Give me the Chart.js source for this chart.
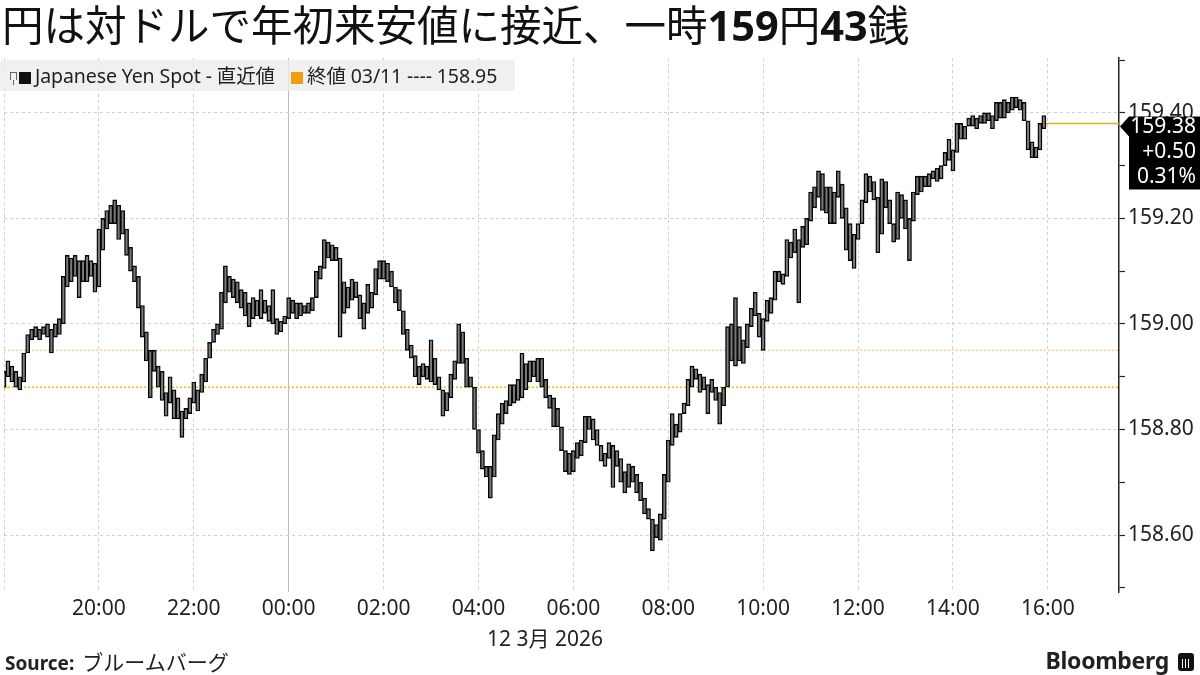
<!DOCTYPE html>
<html>
<head>
<meta charset="utf-8">
<script src="https://cdn.jsdelivr.net/npm/chart.js@4.4.1/dist/chart.umd.min.js"></script>
<style>
html,body{margin:0;padding:0;background:#fff;}
#wrap{position:relative;width:1200px;height:675px;overflow:hidden;font-family:"Noto Sans","Noto Sans CJK JP",sans-serif;color:#222;}
#chart{position:absolute;left:0;top:0;}
#title{position:absolute;left:2px;top:-7px;font-family:"Noto Sans CJK JP",sans-serif;font-size:41.5px;white-space:nowrap;color:#111;}
#title b{font-family:"Noto Sans",sans-serif;font-weight:700;}
#legend{position:absolute;left:0;top:60px;width:515px;height:31px;background:rgba(236,236,236,.8);border-radius:3px;font-size:19.5px;line-height:31px;white-space:nowrap;color:#222;letter-spacing:-0.1px;}
#legend .sq{display:inline-block;width:12px;height:12px;vertical-align:-1px;margin-right:4px;}
#legend .gap{display:inline-block;width:16px;}
#legend .pin{display:inline-block;width:5px;height:7px;border:1px solid #666;border-bottom:none;margin:0 2px 0 10px;vertical-align:3px;position:relative;}
#legend .pin:after{content:"";position:absolute;left:2px;top:7px;width:1px;height:5px;background:#666;}
#date{position:absolute;left:480px;top:622px;font-size:21px;width:130px;text-align:center;white-space:nowrap;}
#source{position:absolute;left:5px;top:646px;font-size:19px;white-space:nowrap;}
#source b{font-weight:700;}
#source span{font-family:"Noto Sans CJK JP",sans-serif;font-size:21px;margin-left:8px;}
#brand{position:absolute;right:6px;top:644px;font-size:23px;font-weight:700;white-space:nowrap;letter-spacing:-0.3px;}
#brand i{display:inline-block;width:16px;height:18px;background:#111;border-radius:3px;margin-left:9px;vertical-align:-2px;
  background-image:linear-gradient(90deg,transparent 4px,#fff 4px,#fff 5px,transparent 5px,transparent 7px,#fff 7px,#fff 8px,transparent 8px,transparent 10px,#fff 10px,#fff 11px,transparent 11px);
  background-size:16px 9px;background-position:0 6px;background-repeat:no-repeat;}
</style>
</head>
<body>
<div id="wrap">
  <canvas id="chart" width="1200" height="675"></canvas>
  <div id="title">円は対ドルで年初来安値に接近、一時<b>159</b>円<b>43</b>銭</div>
  <div id="legend"><span class="pin"></span><span class="sq" style="background:#111"></span>Japanese Yen Spot - 直近値<span class="gap"></span><span class="sq" style="background:#f39c12"></span>終値 03/11 ---- 158.95</div>
  <div id="date">12 3月 2026</div>
  <div id="source"><b>Source:</b><span>ブルームバーグ</span></div>
  <div id="brand">Bloomberg<i></i></div>
</div>
<script>
// ==================== Data ====================
// 5-minute bars starting 18:00 (11 Mar) — one row per hour
const barLows = [
  158.88,158.90,158.89,158.88,158.875,158.89,158.945,158.97,158.975,158.97,158.98,158.975,
  158.945,158.975,158.98,159.00,159.07,159.08,159.09,159.05,159.08,159.08,159.09,159.06,
  159.07,159.14,159.18,159.19,159.19,159.16,159.17,159.13,159.10,159.08,159.03,158.975,
  158.93,158.86,158.91,158.88,158.855,158.825,158.85,158.82,158.82,158.785,158.82,158.83,
  158.85,158.835,158.87,158.89,158.935,158.965,158.98,158.99,159.04,159.06,159.05,159.04,
  159.03,159.015,158.995,159.01,159.015,159.01,159.02,159.005,159.00,158.98,158.985,159.00,
  159.01,159.02,159.01,159.015,159.02,159.02,159.025,159.05,159.085,159.105,159.125,159.12,
  159.12,158.975,159.02,159.03,159.045,159.05,159.01,158.99,159.02,159.03,159.055,159.085,
  159.085,159.08,159.07,159.04,159.025,158.98,158.95,158.935,158.90,158.885,158.90,158.895,
  158.89,158.885,158.875,158.825,158.835,158.86,158.895,158.925,158.925,158.88,158.88,158.80,
  158.755,158.725,158.71,158.67,158.71,158.78,158.81,158.83,158.845,158.85,158.855,158.86,
  158.875,158.89,158.90,158.89,158.88,158.86,158.84,158.805,158.805,158.76,158.72,158.715,
  158.72,158.745,158.75,158.775,158.80,158.78,158.77,158.74,158.73,158.745,158.69,158.73,
  158.70,158.68,158.69,158.70,158.68,158.665,158.64,158.63,158.57,158.595,158.59,158.63,
  158.70,158.77,158.785,158.795,158.83,158.845,158.88,158.895,158.87,158.875,158.83,158.87,
  158.855,158.81,158.845,158.88,158.93,158.92,158.93,158.925,158.955,158.995,159.015,158.975,
  158.95,159.005,159.02,159.045,159.08,159.075,159.09,159.125,159.135,159.04,159.145,159.15,
  159.195,159.22,159.24,159.215,159.21,159.19,159.19,159.24,159.20,159.14,159.12,159.105,
  159.16,159.19,159.23,159.25,159.235,159.135,159.17,159.22,159.19,159.155,159.16,159.20,
  159.18,159.12,159.195,159.245,159.25,159.26,159.26,159.275,159.27,159.275,159.30,159.31,
  159.29,159.325,159.35,159.35,159.375,159.375,159.37,159.38,159.38,159.385,159.37,159.385,
  159.39,159.39,159.40,159.405,159.41,159.405,159.385,159.33,159.315,159.315,159.33,159.37
];
const barHighs = [
  158.91,158.93,158.92,158.91,158.90,158.945,158.98,158.99,158.995,158.99,158.995,159.00,
  158.99,159.00,159.01,159.09,159.13,159.125,159.13,159.12,159.12,159.13,159.12,159.115,
  159.18,159.20,159.215,159.225,159.235,159.225,159.215,159.18,159.145,159.11,159.09,159.035,
  158.985,158.95,158.95,158.92,158.91,158.87,158.90,158.875,158.86,158.835,158.84,158.86,
  158.89,158.875,158.905,158.935,158.965,158.99,159.00,159.06,159.11,159.09,159.085,159.08,
  159.065,159.06,159.04,159.05,159.045,159.065,159.045,159.035,159.065,159.01,159.005,159.015,
  159.05,159.045,159.04,159.04,159.035,159.04,159.05,159.10,159.11,159.16,159.155,159.15,
  159.145,159.125,159.08,159.07,159.085,159.08,159.055,159.04,159.075,159.06,159.105,159.12,
  159.12,159.115,159.10,159.07,159.065,159.025,158.99,158.96,158.94,158.92,158.925,158.92,
  158.97,158.935,158.90,158.875,158.87,158.905,158.93,159.00,158.985,158.935,158.90,158.88,
  158.80,158.76,158.73,158.73,158.79,158.83,158.85,158.855,158.885,158.885,158.895,158.945,
  158.925,158.93,158.93,158.935,158.935,158.895,158.865,158.86,158.84,158.805,158.76,158.755,
  158.76,158.775,158.78,158.825,158.825,158.82,158.80,158.77,158.755,158.775,158.77,158.76,
  158.745,158.72,158.735,158.73,158.715,158.70,158.67,158.65,158.63,158.62,158.64,158.715,
  158.78,158.83,158.81,158.83,158.85,158.895,158.92,158.915,158.905,158.90,158.885,158.895,
  158.88,158.87,158.88,158.995,159.00,159.05,158.995,158.97,159.00,159.03,159.06,159.02,
  159.01,159.045,159.05,159.10,159.10,159.095,159.16,159.155,159.18,159.16,159.185,159.20,
  159.25,159.26,159.29,159.285,159.26,159.26,159.25,159.29,159.265,159.22,159.19,159.17,
  159.19,159.235,159.285,159.28,159.27,159.24,159.275,159.27,159.235,159.19,159.25,159.245,
  159.235,159.20,159.25,159.28,159.28,159.28,159.285,159.29,159.295,159.30,159.325,159.35,
  159.33,159.38,159.38,159.375,159.39,159.395,159.39,159.395,159.40,159.40,159.395,159.42,
  159.42,159.425,159.42,159.43,159.43,159.425,159.42,159.385,159.345,159.335,159.38,159.395
];
const startHour = 18;        // first bar 18:00
const barMinutes = 5;
const axisEndSlot = 282;     // 17:30
const prevClose = 158.95;    // 終値 03/11
const refLevel = 158.88;     // change reference
const lastPrice = 159.38;
const lastChange = "+0.50";
const lastPct = "0.31%";
const yTicksMin = 158.492, yTicksMax = 159.504;

// ==================== Chart ====================
Chart.defaults.font.family = "'Noto Sans', 'Noto Sans CJK JP', sans-serif";
Chart.defaults.color = "#222";

const bars = barLows.map((lo, i) => ({ x: i, y: [lo, barHighs[i]] }));
const lastSlot = barLows.length - 1;

const lastBox = {
  id: "lastBox",
  afterDraw(chart){
    const c = chart.ctx, y = chart.scales.y.getPixelForValue(lastPrice);
    const x0 = chart.chartArea.right;
    c.save();
    c.fillStyle = "#000";
    c.beginPath();
    c.moveTo(x0 + 1, y + 3);
    c.lineTo(x0 + 10, y - 7);
    c.lineTo(1200, y - 7);
    c.lineTo(1200, y + 66);
    c.lineTo(x0 + 10, y + 66);
    c.lineTo(x0 + 10, y + 13);
    c.closePath();
    c.fill();
    c.fillStyle = "#fff";
    c.font = "21px 'Noto Sans'";
    c.textAlign = "right";
    c.textBaseline = "middle";
    c.fillText(lastPrice.toFixed(2), 1196, y + 4);
    c.fillText(lastChange, 1196, y + 29);
    c.fillText(lastPct, 1196, y + 54);
    c.restore();
  }
};

new Chart(document.getElementById("chart"), {
  type: "bar",
  data: {
    datasets: [
      {
        type: "line", data: [{x: 0, y: prevClose}, {x: axisEndSlot, y: prevClose}],
        borderColor: "#f6c99a", borderWidth: 1.5, borderDash: [2, 2], pointRadius: 0, order: 3
      },
      {
        type: "line", data: [{x: 0, y: refLevel}, {x: axisEndSlot, y: refLevel}],
        borderColor: "#e8c60f", borderWidth: 1.6, borderDash: [2, 2], pointRadius: [4, 0],
        pointStyle: "triangle", rotation: 90, pointBackgroundColor: "#e8c60f", pointBorderWidth: 0, order: 3
      },
      {
        type: "line", data: [{x: lastSlot + 0.5, y: lastPrice}, {x: axisEndSlot, y: lastPrice}],
        borderColor: "#d9b520", borderWidth: 1.5, pointRadius: 0, order: 2
      },
      {
        data: bars, backgroundColor: "#7a7a7a", borderColor: "#050505", borderWidth: 1.4,
        borderSkipped: false, barThickness: 4.1, order: 1
      }
    ]
  },
  options: {
    responsive: false, animation: false, events: [],
    layout: { padding: { top: 58, left: 0, right: 0, bottom: 53 } },
    plugins: { legend: { display: false }, tooltip: { enabled: false } },
    scales: {
      x: {
        type: "linear", min: 0, max: axisEndSlot, offset: false,
        afterFit(s){ s.height = 30; },
        ticks: {
          stepSize: 24, includeBounds: false, maxRotation: 0, padding: 4,
          font: { size: 21 }, color: "#222",
          callback(v){
            if (v === 0) return "";
            const h = (startHour + v * barMinutes / 60) % 24;
            return String(h).padStart(2, "0") + ":00";
          }
        },
        grid: {
          offset: false, drawTicks: false,
          color: ctx => ctx.tick && ctx.tick.value === 72 ? "#bdbdbd" : "#cfcfcf",
          lineWidth: 1
        },
        border: { display: false, dash: ctx => ctx.tick && ctx.tick.value === 72 ? [] : [3, 3] }
      },
      y: {
        position: "right", min: yTicksMin, max: yTicksMax,
        afterFit(s){ s.width = 81; },
        ticks: {
          stepSize: 0.1, includeBounds: false, padding: 3, font: { size: 21 }, color: "#222",
          callback(v){ return Math.round(v * 10) % 2 === 0 ? v.toFixed(2) : ""; }
        },
        grid: {
          offset: false,
          color: ctx => ctx.tick && Math.round(ctx.tick.value * 10) % 2 === 0 ? "#cfcfcf" : "rgba(0,0,0,0)",
          tickColor: "#222", tickLength: 6, tickWidth: 1.2, lineWidth: 1
        },
        border: { display: true, color: "#222", width: 1.5, dash: [3, 3] }
      }
    }
  },
  plugins: [lastBox]
});
</script>
</body>
</html>
